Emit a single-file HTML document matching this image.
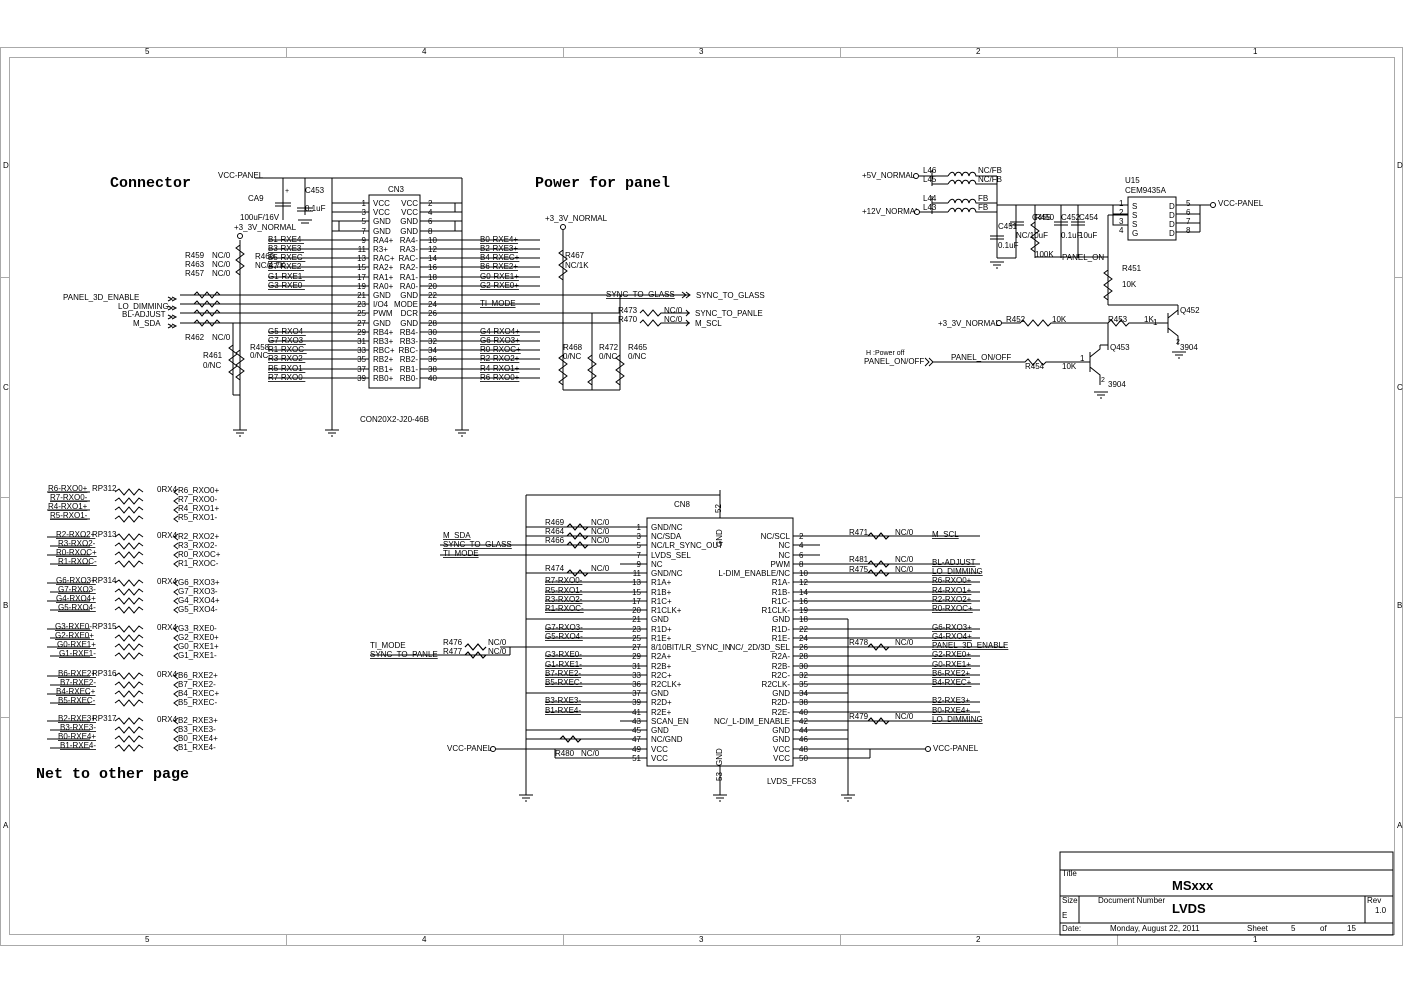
<!DOCTYPE html>
<html><head><meta charset="utf-8"><style>
html,body{margin:0;padding:0;background:#fff}
svg{display:block}
text{font-family:"Liberation Sans",sans-serif;font-size:8px;fill:#000}
.t{font-family:"Liberation Mono",monospace;font-size:15px;font-weight:bold}
.s{font-size:7px}
line,path,rect,polyline{stroke:#000;stroke-width:1;fill:none}
.g{stroke:#aaa}
.g line{stroke:#aaa}
.u{text-decoration:underline}
</style></head><body>
<svg width="1404" height="993" viewBox="0 0 1404 993" xmlns="http://www.w3.org/2000/svg">
<!-- frame -->
<rect x="0.5" y="47.5" width="1402" height="898" class="g"/>
<rect x="9.5" y="57.5" width="1385" height="877" class="g"/>
<g class="s" fill="#555">
<text x="145" y="54">5</text><text x="422" y="54">4</text><text x="699" y="54">3</text><text x="976" y="54">2</text><text x="1253" y="54">1</text>
<text x="145" y="942">5</text><text x="422" y="942">4</text><text x="699" y="942">3</text><text x="976" y="942">2</text><text x="1253" y="942">1</text>
<text x="3" y="168">D</text><text x="3" y="390">C</text><text x="3" y="608">B</text><text x="3" y="828">A</text>
<text x="1397" y="168">D</text><text x="1397" y="390">C</text><text x="1397" y="608">B</text><text x="1397" y="828">A</text>
</g>
<g class="g">
<line x1="286.5" y1="47" x2="286.5" y2="57"/><line x1="563.5" y1="47" x2="563.5" y2="57"/><line x1="840.5" y1="47" x2="840.5" y2="57"/><line x1="1117.5" y1="47" x2="1117.5" y2="57"/>
<line x1="286.5" y1="935" x2="286.5" y2="945"/><line x1="563.5" y1="935" x2="563.5" y2="945"/><line x1="840.5" y1="935" x2="840.5" y2="945"/><line x1="1117.5" y1="935" x2="1117.5" y2="945"/>
<line x1="0" y1="277.5" x2="9" y2="277.5"/><line x1="0" y1="497.5" x2="9" y2="497.5"/><line x1="0" y1="717.5" x2="9" y2="717.5"/>
<line x1="1395" y1="277.5" x2="1403" y2="277.5"/><line x1="1395" y1="497.5" x2="1403" y2="497.5"/><line x1="1395" y1="717.5" x2="1403" y2="717.5"/>
</g>
<!-- title block -->
<rect x="1060" y="852" width="333" height="83"/>
<line x1="1060" y1="870" x2="1393" y2="870"/><line x1="1060" y1="896" x2="1393" y2="896"/><line x1="1060" y1="923" x2="1393" y2="923"/>
<line x1="1079" y1="896" x2="1079" y2="923"/><line x1="1365" y1="896" x2="1365" y2="923"/>
<text x="1062" y="876">Title</text><text x="1172" y="890" style="font-size:13px;font-weight:bold">MSxxx</text>
<text x="1062" y="903">Size</text><text x="1098" y="903">Document Number</text><text x="1367" y="903">Rev</text>
<text x="1062" y="918">E</text><text x="1172" y="913" style="font-size:13px;font-weight:bold">LVDS</text><text x="1375" y="913">1.0</text>
<text x="1062" y="931">Date:</text><text x="1110" y="931">Monday, August 22, 2011</text><text x="1247" y="931">Sheet</text><text x="1291" y="931">5</text><text x="1320" y="931">of</text><text x="1347" y="931">15</text>

<!-- titles -->
<text class="t" x="110" y="187">Connector</text>
<text class="t" x="535" y="187">Power for panel</text>
<text class="t" x="36" y="778">Net to other page</text>

<!-- CN3 -->
<rect x="369" y="195" width="51" height="193"/>
<text x="388" y="192">CN3</text>
<text x="360" y="422">CON20X2-J20-46B</text>
<g text-anchor="end">
<text x="366" y="206">1</text><text x="366" y="215">3</text><text x="366" y="224">5</text><text x="366" y="234">7</text><text x="366" y="243">9</text><text x="366" y="252">11</text><text x="366" y="261">13</text><text x="366" y="270">15</text><text x="366" y="280">17</text><text x="366" y="289">19</text><text x="366" y="298">21</text><text x="366" y="307">23</text><text x="366" y="316">25</text><text x="366" y="326">27</text><text x="366" y="335">29</text><text x="366" y="344">31</text><text x="366" y="353">33</text><text x="366" y="362">35</text><text x="366" y="372">37</text><text x="366" y="381">39</text>
<text x="418" y="206">VCC</text><text x="418" y="215">VCC</text><text x="418" y="224">GND</text><text x="418" y="234">GND</text><text x="418" y="243">RA4-</text><text x="418" y="252">RA3-</text><text x="418" y="261">RAC-</text><text x="418" y="270">RA2-</text><text x="418" y="280">RA1-</text><text x="418" y="289">RA0-</text><text x="418" y="298">GND</text><text x="418" y="307">MODE</text><text x="418" y="316">DCR</text><text x="418" y="326">GND</text><text x="418" y="335">RB4-</text><text x="418" y="344">RB3-</text><text x="418" y="353">RBC-</text><text x="418" y="362">RB2-</text><text x="418" y="372">RB1-</text><text x="418" y="381">RB0-</text>
</g>
<g>
<text x="373" y="206">VCC</text><text x="373" y="215">VCC</text><text x="373" y="224">GND</text><text x="373" y="234">GND</text><text x="373" y="243">RA4+</text><text x="373" y="252">R3+</text><text x="373" y="261">RAC+</text><text x="373" y="270">RA2+</text><text x="373" y="280">RA1+</text><text x="373" y="289">RA0+</text><text x="373" y="298">GND</text><text x="373" y="307">I/O4</text><text x="373" y="316">PWM</text><text x="373" y="326">GND</text><text x="373" y="335">RB4+</text><text x="373" y="344">RB3+</text><text x="373" y="353">RBC+</text><text x="373" y="362">RB2+</text><text x="373" y="372">RB1+</text><text x="373" y="381">RB0+</text>
<text x="428" y="206">2</text><text x="428" y="215">4</text><text x="428" y="224">6</text><text x="428" y="234">8</text><text x="428" y="243">10</text><text x="428" y="252">12</text><text x="428" y="261">14</text><text x="428" y="270">16</text><text x="428" y="280">18</text><text x="428" y="289">20</text><text x="428" y="298">22</text><text x="428" y="307">24</text><text x="428" y="316">26</text><text x="428" y="326">28</text><text x="428" y="335">30</text><text x="428" y="344">32</text><text x="428" y="353">34</text><text x="428" y="362">36</text><text x="428" y="372">38</text><text x="428" y="381">40</text>
</g>
<path d="M332 203H369M332 212H369M332 221H369M332 231H369M420 203H462M420 212H462M420 221H462M420 231H462
M268 240H369M268 249H369M268 258H369M268 267H369M268 277H369M268 286H369
M180 295H369M180 304H369M180 313H369M180 323H369
M268 332H369M268 341H369M268 350H369M268 359H369M268 369H369M268 378H369
M420 240H540M420 249H540M420 258H540M420 267H540M420 277H540M420 286H540
M420 295H620M420 304H540M420 313H620M420 323H620
M420 332H540M420 341H540M420 350H540M420 359H540M420 369H540M420 378H540
M332 178V430M462 178V430M332 178H462M455 203V212M455 221V231M339 221V231
M255 178H462M283 178V220M305 178V215M283 190V203M305 190V208"/>
<text x="218" y="178">VCC-PANEL</text><text x="305" y="193">C453</text><text x="248" y="201">CA9</text><text x="305" y="211">0.1uF</text><text x="240" y="220">100uF/16V</text><text x="234" y="230">+3_3V_NORMAL</text>
<path d="M275 203h16M275 206h16M297 208h16M297 211h16M298 220h14M301 223h8"/>
<text x="285" y="193" class="s">+</text>
<g class="u">
<text x="268" y="242">B1-RXE4-</text><text x="268" y="251">B3-RXE3-</text><text x="268" y="260">B5-RXEC-</text><text x="268" y="269">B7-RXE2-</text><text x="268" y="279">G1-RXE1-</text><text x="268" y="288">G3-RXE0-</text>
<text x="268" y="334">G5-RXO4-</text><text x="268" y="343">G7-RXO3-</text><text x="268" y="352">R1-RXOC-</text><text x="268" y="361">R3-RXO2-</text><text x="268" y="371">R5-RXO1-</text><text x="268" y="380">R7-RXO0-</text>
<text x="480" y="242">B0-RXE4+</text><text x="480" y="251">B2-RXE3+</text><text x="480" y="260">B4-RXEC+</text><text x="480" y="269">B6-RXE2+</text><text x="480" y="279">G0-RXE1+</text><text x="480" y="288">G2-RXE0+</text>
<text x="480" y="306">TI_MODE</text>
<text x="480" y="334">G4-RXO4+</text><text x="480" y="343">G6-RXO3+</text><text x="480" y="352">R0-RXOC+</text><text x="480" y="361">R2-RXO2+</text><text x="480" y="371">R4-RXO1+</text><text x="480" y="380">R6-RXO0+</text>
</g>
<text x="255" y="259">R460</text><text x="255" y="268">NC/4.7K</text>
<text x="185" y="258">R459</text><text x="212" y="258">NC/0</text>
<text x="185" y="267">R463</text><text x="212" y="267">NC/0</text>
<text x="185" y="276">R457</text><text x="212" y="276">NC/0</text>
<text x="185" y="340">R462</text><text x="212" y="340">NC/0</text>
<text x="203" y="358">R461</text><text x="203" y="368">0/NC</text>
<text x="250" y="350">R458</text><text x="250" y="358">0/NC</text>
<text x="63" y="300">PANEL_3D_ENABLE</text><text x="118" y="309">LO_DIMMING</text><text x="122" y="317">BL-ADJUST</text><text x="133" y="326">M_SDA</text>
<path d="M168 297l4 2-4 2M172 297l4 2-4 2M168 306l4 2-4 2M172 306l4 2-4 2M168 315l4 2-4 2M172 315l4 2-4 2M168 324l4 2-4 2M172 324l4 2-4 2"/>
<path d="M194 295l3-3 5 6 5-6 5 6 5-6 3 3M194 304l3-3 5 6 5-6 5 6 5-6 3 3M194 313l3-3 5 6 5-6 5 6 5-6 3 3M194 323l3-3 5 6 5-6 5 6 5-6 3 3"/>
<path d="M240 240V430M240 245l-4 3 8 6-8 6 8 6-8 6 4 3M240 350l-4 3 8 6-8 6 8 6-8 6 4 3M233 323V395M233 345l-4 3 8 6-8 6 8 6-8 6 4 3M233 395H240"/>
<circle cx="240" cy="236" r="2.5" fill="#fff" stroke="#000"/>
<g>
<path d="M233 430h14M236 433h8M239 436h2M325 430h14M328 433h8M331 436h2M455 430h14M458 433h8M461 436h2"/>
</g>
<!-- power for panel resistors -->
<text x="545" y="221">+3_3V_NORMAL</text>
<circle cx="563" cy="227" r="2.5" fill="#fff" stroke="#000"/>
<path d="M563 230V390M563 250l-4 3 8 6-8 6 8 6-8 6 4 3M563 355l-4 3 8 6-8 6 8 6-8 6 4 3M592 313V390M592 355l-4 3 8 6-8 6 8 6-8 6 4 3M620 295V390M620 355l-4 3 8 6-8 6 8 6-8 6 4 3M563 390H620"/>
<text x="565" y="258">R467</text><text x="565" y="268">NC/1K</text>
<text x="563" y="350">R468</text><text x="563" y="359">0/NC</text><text x="599" y="350">R472</text><text x="599" y="359">0/NC</text><text x="628" y="350">R465</text><text x="628" y="359">0/NC</text>
<text x="606" y="297" class="u">SYNC_TO_GLASS</text><text x="696" y="298">SYNC_TO_GLASS</text>
<path d="M620 295H690M682 292l4 3-4 3M686 292l4 3-4 3"/>
<text x="618" y="313">R473</text><text x="664" y="313">NC/0</text><text x="618" y="322">R470</text><text x="664" y="322">NC/0</text>
<path d="M640 313l3-3 5 6 5-6 5 6 3-3H690M640 323l3-3 5 6 5-6 5 6 3-3H690M686 310l3 3-3 3M686 320l3 3-3 3"/>
<text x="695" y="316">SYNC_TO_PANLE</text><text x="695" y="326">M_SCL</text>

<!-- top right power -->
<text x="862" y="178">+5V_NORMAL</text><text x="862" y="214">+12V_NORMAL</text>
<circle cx="916" cy="176" r="2.5" fill="#fff" stroke="#000"/><circle cx="917" cy="212" r="2.5" fill="#fff" stroke="#000"/>
<text x="923" y="173">L46</text><text x="923" y="182">L45</text><text x="923" y="201">L44</text><text x="923" y="210">L43</text>
<text x="978" y="173">NC/FB</text><text x="978" y="182">NC/FB</text><text x="978" y="201">FB</text><text x="978" y="210">FB</text>
<path d="M919 176H932M932 170V186M932 176h16M932 184h16M919 212H932M932 196V214M932 203h16M932 212h16
M948 176c3-5 6-5 7 0c1-5 6-5 7 0c1-5 6-5 7 0c1-5 6-5 7 0h8M948 184c3-5 6-5 7 0c1-5 6-5 7 0c1-5 6-5 7 0c1-5 6-5 7 0h8
M948 203c3-5 6-5 7 0c1-5 6-5 7 0c1-5 6-5 7 0c1-5 6-5 7 0h8M948 212c3-5 6-5 7 0c1-5 6-5 7 0c1-5 6-5 7 0c1-5 6-5 7 0h8
M984 176H997M984 184H997M984 203H997M984 212H997M997 176V258M997 205H1128M1016 205V258M1035 205V258M1061 205V258M1078 205V258
M990 236h14M990 239h14M1010 222h14M1010 225h14M1054 222h14M1054 225h14M1071 222h14M1071 225h14
M1035 222l-4 3 8 6-8 6 8 6-8 6 4 3M997 258H1016M1035 257H1108M1108 215V305M1108 215H1128M1113 205V225H1128M1113 214H1128
M1108 270l-4 3 8 6-8 6 8 6-8 6 4 3M1108 305H1178M1178 305V315"/>
<path d="M990 262h14M993 265h8M996 268h2"/>
<text x="1032" y="220">C455</text><text x="1016" y="238">NC/10uF</text><text x="1035" y="220">R450</text><text x="1035" y="257">100K</text>
<text x="1061" y="220">C452</text><text x="1079" y="220">C454</text><text x="1061" y="238">0.1uF</text><text x="1079" y="238">10uF</text>
<text x="998" y="229">C451</text><text x="998" y="248">0.1uF</text><text x="1062" y="260">PANEL_ON</text>
<text x="1122" y="271">R451</text><text x="1122" y="287">10K</text>
<rect x="1128" y="197" width="48" height="43"/>
<text x="1125" y="183">U15</text><text x="1125" y="193">CEM9435A</text>
<text x="1119" y="206">1</text><text x="1119" y="215">2</text><text x="1119" y="224">3</text><text x="1119" y="233">4</text>
<text x="1132" y="209">S</text><text x="1132" y="218">S</text><text x="1132" y="227">S</text><text x="1132" y="236">G</text>
<text x="1169" y="209">D</text><text x="1169" y="218">D</text><text x="1169" y="227">D</text><text x="1169" y="236">D</text>
<text x="1186" y="206">5</text><text x="1186" y="215">6</text><text x="1186" y="224">7</text><text x="1186" y="233">8</text>
<path d="M1176 205H1210M1176 214H1200M1176 223H1200M1176 232H1200M1200 205V232"/>
<circle cx="1213" cy="205" r="2.5" fill="#fff" stroke="#000"/><text x="1218" y="206">VCC-PANEL</text>
<text x="938" y="326">+3_3V_NORMAL</text><circle cx="999" cy="323" r="2.5" fill="#fff" stroke="#000"/>
<text x="1006" y="322">R452</text><text x="1052" y="322">10K</text><text x="1108" y="322">R453</text><text x="1144" y="322">1K</text><text x="1153" y="325">1</text>
<path d="M1002 323H1020l3-3 5 6 5-6 5 6 5-6 5 6 3-3H1108l3-3 5 6 5-6 5 6 3-3H1168M1108 323V350M1168 313V333M1168 318l10-8M1168 328l10 8V345M1178 310V305"/>
<text x="1180" y="313">Q452</text><text x="1180" y="350">3904</text><text x="1176" y="344" class="s">2</text>
<path d="M1172 352h14M1175 355h8M1178 358h2"/>
<text x="866" y="355" class="s" fill="#555">H :Power off</text><text x="864" y="364">PANEL_ON/OFF</text>
<path d="M925 358l4 4-4 4M929 358l4 4-4 4M933 362H1025l3-3 5 6 5-6 5 6 3-3H1090M1090 352V372M1090 357l10-8V345M1090 367l10 8V385M1100 345H1108V350"/>
<text x="951" y="360">PANEL_ON/OFF</text><text x="1025" y="369">R454</text><text x="1062" y="369">10K</text><text x="1080" y="361">1</text>
<text x="1110" y="350">Q453</text><text x="1108" y="387">3904</text><text x="1101" y="382" class="s">2</text>
<path d="M1094 392h14M1097 395h8M1100 398h2"/>

<!-- Resistor networks -->
<g id="rp">
<path d="M47 492H90M50 501H90M47 510H90M50 519H90M115 492l4-3 5 6 5-6 5 6 5-6 4 3M115 501l4-3 5 6 5-6 5 6 5-6 4 3M115 510l4-3 5 6 5-6 5 6 5-6 4 3M115 519l4-3 5 6 5-6 5 6 5-6 4 3M178 489l-4 3 4 3M178 498l-4 3 4 3M178 507l-4 3 4 3M178 516l-4 3 4 3"/>
</g>
<use href="#rp" y="45"/><use href="#rp" y="91"/><use href="#rp" y="137"/><use href="#rp" y="184"/><use href="#rp" y="229"/>
<g class="u">
<text x="48" y="491">R6-RXO0+</text><text x="50" y="500">R7-RXO0-</text><text x="48" y="509">R4-RXO1+</text><text x="50" y="518">R5-RXO1-</text>
<text x="56" y="537">R2-RXO2+</text><text x="58" y="546">R3-RXO2-</text><text x="56" y="555">R0-RXOC+</text><text x="58" y="564">R1-RXOC-</text>
<text x="56" y="583">G6-RXO3+</text><text x="58" y="592">G7-RXO3-</text><text x="56" y="601">G4-RXO4+</text><text x="58" y="610">G5-RXO4-</text>
<text x="55" y="629">G3-RXE0-</text><text x="55" y="638">G2-RXE0+</text><text x="57" y="647">G0-RXE1+</text><text x="59" y="656">G1-RXE1-</text>
<text x="58" y="676">B6-RXE2+</text><text x="60" y="685">B7-RXE2-</text><text x="56" y="694">B4-RXEC+</text><text x="58" y="703">B5-RXEC-</text>
<text x="58" y="721">B2-RXE3+</text><text x="60" y="730">B3-RXE3-</text><text x="58" y="739">B0-RXE4+</text><text x="60" y="748">B1-RXE4-</text>
</g>
<text x="92" y="491">RP312</text><text x="92" y="537">RP313</text><text x="92" y="583">RP314</text><text x="92" y="629">RP315</text><text x="92" y="676">RP316</text><text x="92" y="721">RP317</text>
<g>
<text x="157" y="492">0RX4</text><text x="157" y="538">0RX4</text><text x="157" y="584">0RX4</text><text x="157" y="630">0RX4</text><text x="157" y="677">0RX4</text><text x="157" y="722">0RX4</text>
<text x="178" y="493">R6_RXO0+</text><text x="178" y="502">R7_RXO0-</text><text x="178" y="511">R4_RXO1+</text><text x="178" y="520">R5_RXO1-</text>
<text x="178" y="539">R2_RXO2+</text><text x="178" y="548">R3_RXO2-</text><text x="178" y="557">R0_RXOC+</text><text x="178" y="566">R1_RXOC-</text>
<text x="178" y="585">G6_RXO3+</text><text x="178" y="594">G7_RXO3-</text><text x="178" y="603">G4_RXO4+</text><text x="178" y="612">G5_RXO4-</text>
<text x="178" y="631">G3_RXE0-</text><text x="178" y="640">G2_RXE0+</text><text x="178" y="649">G0_RXE1+</text><text x="178" y="658">G1_RXE1-</text>
<text x="178" y="678">B6_RXE2+</text><text x="178" y="687">B7_RXE2-</text><text x="178" y="696">B4_RXEC+</text><text x="178" y="705">B5_RXEC-</text>
<text x="178" y="723">B2_RXE3+</text><text x="178" y="732">B3_RXE3-</text><text x="178" y="741">B0_RXE4+</text><text x="178" y="750">B1_RXE4-</text>
</g>

<!-- CN8 -->
<rect x="647" y="518" width="146" height="248"/>
<text x="674" y="507">CN8</text><text x="767" y="784">LVDS_FFC53</text>
<text transform="translate(721,513) rotate(-90)">52</text><text transform="translate(722,547) rotate(-90)">GND</text>
<text transform="translate(722,766) rotate(-90)">GND</text><text transform="translate(722,781) rotate(-90)">53</text>
<path d="M720 490V518M720 766V795"/>
<g>
<text x="651" y="530">GND/NC</text><text x="651" y="539">NC/SDA</text><text x="651" y="548">NC/LR_SYNC_OUT</text><text x="651" y="558">LVDS_SEL</text><text x="651" y="567">NC</text><text x="651" y="576">GND/NC</text><text x="651" y="585">R1A+</text><text x="651" y="595">R1B+</text><text x="651" y="604">R1C+</text><text x="651" y="613">R1CLK+</text><text x="651" y="622">GND</text><text x="651" y="632">R1D+</text><text x="651" y="641">R1E+</text><text x="651" y="650">8/10BIT/LR_SYNC_IN</text><text x="651" y="659">R2A+</text><text x="651" y="669">R2B+</text><text x="651" y="678">R2C+</text><text x="651" y="687">R2CLK+</text><text x="651" y="696">GND</text><text x="651" y="705">R2D+</text><text x="651" y="715">R2E+</text><text x="651" y="724">SCAN_EN</text><text x="651" y="733">GND</text><text x="651" y="742">NC/GND</text><text x="651" y="752">VCC</text><text x="651" y="761">VCC</text>
<text x="799" y="539">2</text><text x="799" y="548">4</text><text x="799" y="558">6</text><text x="799" y="567">8</text><text x="799" y="576">10</text><text x="799" y="585">12</text><text x="799" y="595">14</text><text x="799" y="604">16</text><text x="799" y="613">19</text><text x="799" y="622">18</text><text x="799" y="632">22</text><text x="799" y="641">24</text><text x="799" y="650">26</text><text x="799" y="659">28</text><text x="799" y="669">30</text><text x="799" y="678">32</text><text x="799" y="687">35</text><text x="799" y="696">34</text><text x="799" y="705">38</text><text x="799" y="715">40</text><text x="799" y="724">42</text><text x="799" y="733">44</text><text x="799" y="742">46</text><text x="799" y="752">48</text><text x="799" y="761">50</text>
</g>
<g text-anchor="end">
<text x="641" y="530">1</text><text x="641" y="539">3</text><text x="641" y="548">5</text><text x="641" y="558">7</text><text x="641" y="567">9</text><text x="641" y="576">11</text><text x="641" y="585">13</text><text x="641" y="595">15</text><text x="641" y="604">17</text><text x="641" y="613">20</text><text x="641" y="622">21</text><text x="641" y="632">23</text><text x="641" y="641">25</text><text x="641" y="650">27</text><text x="641" y="659">29</text><text x="641" y="669">31</text><text x="641" y="678">33</text><text x="641" y="687">36</text><text x="641" y="696">37</text><text x="641" y="705">39</text><text x="641" y="715">41</text><text x="641" y="724">43</text><text x="641" y="733">45</text><text x="641" y="742">47</text><text x="641" y="752">49</text><text x="641" y="761">51</text>
<text x="790" y="539">NC/SCL</text><text x="790" y="548">NC</text><text x="790" y="558">NC</text><text x="790" y="567">PWM</text><text x="790" y="576">L-DIM_ENABLE/NC</text><text x="790" y="585">R1A-</text><text x="790" y="595">R1B-</text><text x="790" y="604">R1C-</text><text x="790" y="613">R1CLK-</text><text x="790" y="622">GND</text><text x="790" y="632">R1D-</text><text x="790" y="641">R1E-</text><text x="790" y="650">NC/_2D/3D_SEL</text><text x="790" y="659">R2A-</text><text x="790" y="669">R2B-</text><text x="790" y="678">R2C-</text><text x="790" y="687">R2CLK-</text><text x="790" y="696">GND</text><text x="790" y="705">R2D-</text><text x="790" y="715">R2E-</text><text x="790" y="724">NC/_L-DIM_ENABLE</text><text x="790" y="733">GND</text><text x="790" y="742">GND</text><text x="790" y="752">VCC</text><text x="790" y="761">VCC</text>
</g>
<path d="M526 527H647M526 536H647M440 545H647M440 555H647M620 564H647M526 573H647
M545 582H647M545 592H647M545 601H647M545 610H647M526 619H647M545 629H647M545 638H647M500 647H647M545 656H647M545 666H647M545 675H647M545 684H647M526 693H647M545 702H647M545 712H647M620 721H647M526 730H647M526 739H647M490 749H647M555 758H647
M526 495V795M526 495H720M555 749V758
M793 536H980M793 545H820M793 555H820M793 564H980M793 573H980M793 582H980M793 592H980M793 601H980M793 610H980M793 619H848M848 619V795
M793 629H980M793 638H980M793 647H1005M793 656H980M793 666H980M793 675H980M793 684H980M793 693H848M793 702H980M793 712H980M793 721H980M793 730H848M793 739H848M793 749H925M793 758H870M870 749V758"/>
<path d="M567 527l3-3 5 6 5-6 5 6 3-3M567 536l3-3 5 6 5-6 5 6 3-3M567 545l3-3 5 6 5-6 5 6 3-3M567 573l3-3 5 6 5-6 5 6 3-3M560 739l3-3 5 6 5-6 5 6 3-3M868 536l3-3 5 6 5-6 5 6 3-3M868 564l3-3 5 6 5-6 5 6 3-3M868 573l3-3 5 6 5-6 5 6 3-3M868 647l3-3 5 6 5-6 5 6 3-3M868 721l3-3 5 6 5-6 5 6 3-3M465 647l3-3 5 6 5-6 5 6 3-3M465 655l3-3 5 6 5-6 5 6 3-3" stroke="#fff" stroke-width="3"/>
<path d="M567 527l3-3 5 6 5-6 5 6 3-3M567 536l3-3 5 6 5-6 5 6 3-3M567 545l3-3 5 6 5-6 5 6 3-3M567 573l3-3 5 6 5-6 5 6 3-3M560 739l3-3 5 6 5-6 5 6 3-3M868 536l3-3 5 6 5-6 5 6 3-3M868 564l3-3 5 6 5-6 5 6 3-3M868 573l3-3 5 6 5-6 5 6 3-3M868 647l3-3 5 6 5-6 5 6 3-3M868 721l3-3 5 6 5-6 5 6 3-3M465 647l3-3 5 6 5-6 5 6 3-3M465 655l3-3 5 6 5-6 5 6 3-3"/>
<path d="M370 655H510M510 647V655"/>
<text x="545" y="525">R469</text><text x="591" y="525">NC/0</text><text x="545" y="534">R464</text><text x="591" y="534">NC/0</text><text x="545" y="543">R466</text><text x="591" y="543">NC/0</text>
<text x="545" y="571">R474</text><text x="591" y="571">NC/0</text><text x="555" y="756">R480</text><text x="581" y="756">NC/0</text>
<text x="443" y="645">R476</text><text x="488" y="645">NC/0</text><text x="443" y="654">R477</text><text x="488" y="654">NC/0</text>
<text x="370" y="648">TI_MODE</text><text x="370" y="657" class="u">SYNC_TO_PANLE</text>
<text x="443" y="538" class="u">M_SDA</text><text x="443" y="547" class="u">SYNC_TO_GLASS</text><text x="443" y="556" class="u">TI_MODE</text>
<text x="447" y="751">VCC-PANEL</text><circle cx="493" cy="749" r="2.5" fill="#fff" stroke="#000"/>
<g class="u">
<text x="545" y="583">R7-RXO0-</text><text x="545" y="593">R5-RXO1-</text><text x="545" y="602">R3-RXO2-</text><text x="545" y="611">R1-RXOC-</text><text x="545" y="630">G7-RXO3-</text><text x="545" y="639">G5-RXO4-</text><text x="545" y="657">G3-RXE0-</text><text x="545" y="667">G1-RXE1-</text><text x="545" y="676">B7-RXE2-</text><text x="545" y="685">B5-RXEC-</text><text x="545" y="703">B3-RXE3-</text><text x="545" y="713">B1-RXE4-</text>
<text x="932" y="537">M_SCL</text><text x="932" y="565">BL-ADJUST</text><text x="932" y="574">LO_DIMMING</text><text x="932" y="583">R6-RXO0+</text><text x="932" y="593">R4-RXO1+</text><text x="932" y="602">R2-RXO2+</text><text x="932" y="611">R0-RXOC+</text><text x="932" y="630">G6-RXO3+</text><text x="932" y="639">G4-RXO4+</text><text x="932" y="648">PANEL_3D_ENABLE</text><text x="932" y="657">G2-RXE0+</text><text x="932" y="667">G0-RXE1+</text><text x="932" y="676">B6-RXE2+</text><text x="932" y="685">B4-RXEC+</text><text x="932" y="703">B2-RXE3+</text><text x="932" y="713">B0-RXE4+</text><text x="932" y="722">LO_DIMMING</text>
</g>
<text x="849" y="535">R471</text><text x="895" y="535">NC/0</text><text x="849" y="562">R481</text><text x="895" y="562">NC/0</text><text x="849" y="572">R475</text><text x="895" y="572">NC/0</text><text x="849" y="645">R478</text><text x="895" y="645">NC/0</text><text x="849" y="719">R479</text><text x="895" y="719">NC/0</text>
<circle cx="928" cy="749" r="2.5" fill="#fff" stroke="#000"/><text x="933" y="751">VCC-PANEL</text>
<path d="M519 795h14M522 798h8M525 801h2M713 795h14M716 798h8M719 801h2M841 795h14M844 798h8M847 801h2"/>
</svg>
</body></html>
